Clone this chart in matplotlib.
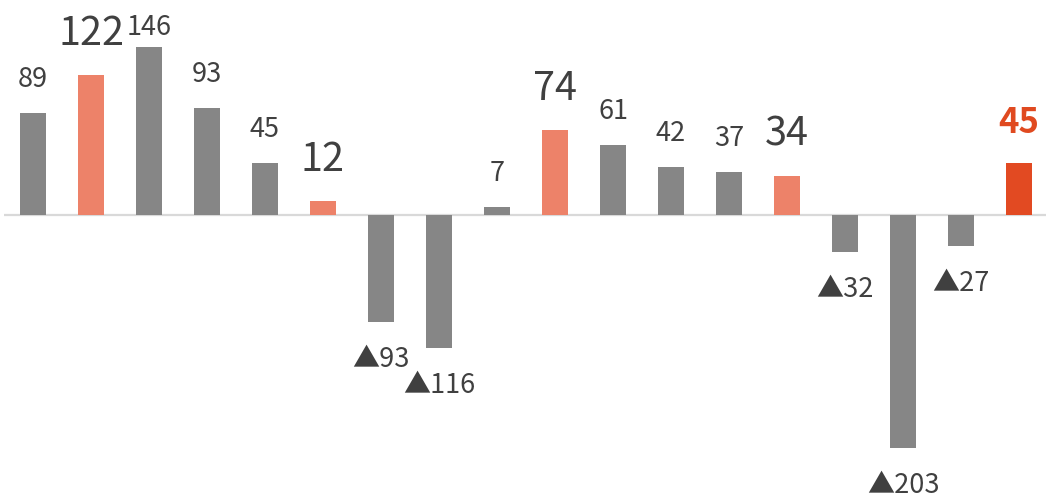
import matplotlib
matplotlib.use("Agg")
import matplotlib.pyplot as plt

plt.rcParams["font.family"] = ["Noto Sans CJK JP", "DejaVu Sans"]

values = [89, 122, 146, 93, 45, 12, -93, -116, 7, 74, 61, 42, 37, 34, -32, -203, -27, 45]
# which bars are highlighted: 0 = normal, 1 = accent, 2 = latest
kinds = [0, 1, 0, 0, 0, 1, 0, 0, 0, 1, 0, 0, 0, 1, 0, 0, 0, 2]

bar_colors = {0: "#868686", 1: "#ED8269", 2: "#E24A22"}
text_gray = "#404040"

W, H = 1046, 498
fig = plt.figure(figsize=(W / 100, H / 100), dpi=100)
ax = fig.add_axes([4 / W, 0, 1044 / W, 1])

px = 1.15  # pixels per unit
zero_px = 215
ytop = zero_px / px
ybot = -(H - zero_px) / px
ax.set_xlim(-0.5, len(values) - 0.5)
ax.set_ylim(ybot, ytop)

xs = range(len(values))
ax.bar(xs, values, width=0.465, color=[bar_colors[k] for k in kinds], zorder=2)
ax.axhline(0, color="#D9D9D9", lw=1.6, zorder=1)

cap = ytop - 35 / px
for x, v, k in zip(xs, values, kinds):
    if v >= 0:
        if k == 0:
            y = min(v + 26 / px, cap)
            ax.text(x, y, f"{v}", ha="center", va="baseline",
                    fontsize=19.5, color=text_gray)
        elif k == 1:
            y = v + 30 / px
            ax.text(x, y, f"{v}", ha="center", va="baseline",
                    fontsize=28.5, color=text_gray)
        else:
            y = v + 30 / px
            ax.text(x, y, f"{v}", ha="center", va="baseline",
                    fontsize=25, color="#E04A20", fontweight="bold")
    else:
        y = v - 45 / px
        ax.text(x, y, f"▲{-v}", ha="center", va="baseline",
                fontsize=19.5, color=text_gray)

ax.axis("off")
fig.savefig("out.png", dpi=100)
